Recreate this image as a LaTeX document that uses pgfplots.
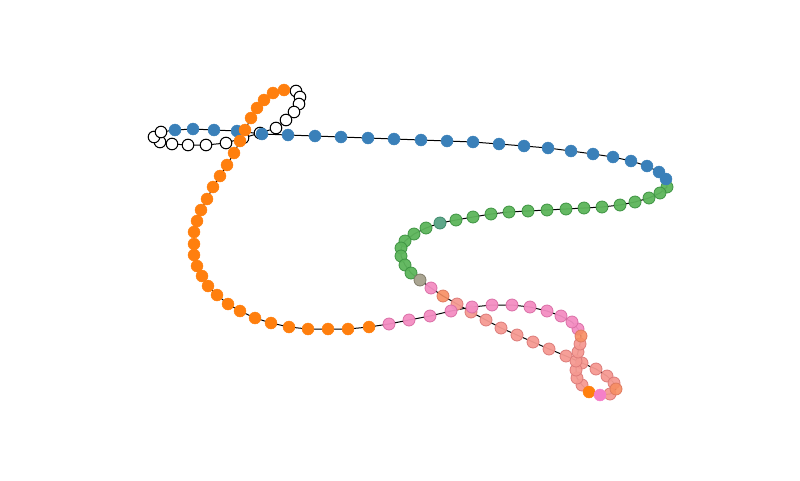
\documentclass[border=0pt]{standalone}
\usepackage{pgfplots}
\pgfplotsset{compat=1.18}

\definecolor{cblue}{HTML}{3A80B9}
\definecolor{corange}{HTML}{FF7F0E}
\definecolor{cgreen}{HTML}{5DB55B}
\definecolor{cgreenE}{HTML}{3E9442}
\definecolor{cteal}{HTML}{5FA78A}
\definecolor{ctealE}{HTML}{3F8A6C}
\definecolor{cgrey}{HTML}{AAA592}
\definecolor{cgreyE}{HTML}{7F7A68}
\definecolor{cpink}{HTML}{F38DC2}
\definecolor{cpinkE}{HTML}{DA6FA6}
\definecolor{csalmon}{HTML}{F59A92}
\definecolor{csalmonE}{HTML}{DC7B79}
\definecolor{corsal}{HTML}{F78E62}
\definecolor{corsalE}{HTML}{DF7A5F}
\definecolor{cpink2}{HTML}{F57FC9}

\begin{document}
\begin{tikzpicture}
\begin{axis}[
    width=800pt, height=480pt,
    scale only axis,
    hide axis,
    xmin=0, xmax=800,
    ymin=0, ymax=480,
    y dir=reverse,
    clip=false,
]

% keeps the page at the full frame
\addplot[draw=none, forget plot] coordinates {(0,0) (800,480)};

% chain backbone
\addplot[black, line width=1pt, no markers] coordinates {
    (296,91) (300,97) (299,104) (294,112) (286,120) (276,128) (260,133) (243,138)
    (226,143) (206,145) (188,145) (172,144) (160,142) (154,137) (161,132)
    (175,130) (193,129) (214,130) (237,131) (262,134) (288,135) (315,136) (341,137)
    (368,138) (394,139) (421,140) (447,141) (473,142) (499,144) (524,146) (548,148)
    (571,151) (593,154) (613,157) (631,161) (647,166) (659,172) (666,179)
    (667,187) (660,193) (649,198) (635,202) (620,205) (602,207) (584,208) (566,209)
    (547,210) (528,211) (509,212) (491,214) (473,217) (456,220) (440,223) (426,228)
    (414,234) (405,241) (401,248) (401,256) (405,265) (411,273)
    (420,280) (431,288) (443,296)
    (457,304) (471,312) (486,320) (501,328) (517,335) (533,342) (549,349) (566,356)
    (582,363) (596,369) (607,376) (614,383) (616,389) (610,394)
    (600,395) (589,392)
    (582,385) (577,378) (576,370) (576,361) (578,352) (580,344) (581,336)
    (578,329) (572,322) (561,316) (547,311) (530,307) (512,305) (492,305) (472,307)
    (451,311) (430,316) (409,320) (389,324)
    (369,327) (348,329) (328,329) (308,329) (289,327) (271,323) (255,318) (240,311)
    (228,304) (217,295) (208,286) (202,276) (197,266) (194,255) (194,244) (194,232)
    (197,221) (201,210) (207,199) (213,187) (220,176) (227,165) (234,153) (240,141)
    (245,130) (251,118) (257,108) (264,100) (273,93) (284,90) (296,91)
};

% missing beads
\addplot[only marks, mark=*, mark size=5.8pt,
    mark options={fill=white, draw=black, line width=1pt}] coordinates {
    (296,91) (300,97) (299,104) (294,112) (286,120) (276,128) (260,133) (243,138)
    (226,143) (206,145) (188,145) (172,144) (160,142) (154,137) (161,132)
};

% green
\addplot[only marks, mark=*, mark size=6pt,
    mark options={fill=cgreen, draw=cgreenE, line width=0.8pt, fill opacity=0.95}] coordinates {
    (667,187) (660,193) (649,198) (635,202) (620,205) (602,207) (584,208) (566,209)
    (547,210) (528,211) (509,212) (491,214) (473,217) (456,220) (426,228)
    (414,234) (405,241) (401,248) (401,256) (405,265) (411,273)
};
\addplot[only marks, mark=*, mark size=6pt,
    mark options={fill=cteal, draw=ctealE, line width=0.8pt}] coordinates {(440,223)};
\addplot[only marks, mark=*, mark size=6pt,
    mark options={fill=cgrey, draw=cgreyE, line width=0.8pt}] coordinates {(420,280)};

% salmon
\addplot[only marks, mark=*, mark size=6pt,
    mark options={fill=csalmon, draw=csalmonE, line width=0.8pt, fill opacity=0.95}] coordinates {
    (457,304) (471,312) (486,320) (501,328) (517,335) (533,342) (549,349) (566,356)
    (582,363) (596,369) (607,376) (614,383) (610,394)
    (582,385) (577,378) (576,370) (576,361) (578,352) (580,344)
};

% pink
\addplot[only marks, mark=*, mark size=6pt,
    mark options={fill=cpink, draw=cpinkE, line width=0.8pt, fill opacity=0.95}] coordinates {
    (431,288)
    (578,329) (572,322) (561,316) (547,311) (530,307) (512,305) (492,305) (472,307)
    (451,311) (430,316) (409,320) (389,324)
};

% orange-salmon
\addplot[only marks, mark=*, mark size=6pt,
    mark options={fill=corsal, draw=corsalE, line width=0.8pt, fill opacity=0.9}] coordinates {
    (443,296) (616,389) (581,336)
};

% blue
\addplot[only marks, mark=*, mark size=6pt,
    mark options={fill=cblue, draw=cblue}] coordinates {
    (175,130) (193,129) (214,130) (237,131) (262,134) (288,135) (315,136) (341,137)
    (368,138) (394,139) (421,140) (447,141) (473,142) (499,144) (524,146) (548,148)
    (571,151) (593,154) (613,157) (631,161) (647,166) (659,172) (666,179)
};

% orange
\addplot[only marks, mark=*, mark size=6pt,
    mark options={fill=corange, draw=corange}] coordinates {
    (589,392)
    (369,327) (348,329) (328,329) (308,329) (289,327) (271,323) (255,318) (240,311)
    (228,304) (217,295) (208,286) (202,276) (197,266) (194,255) (194,244) (194,232)
    (197,221) (201,210) (207,199) (213,187) (220,176) (227,165) (234,153) (240,141)
    (245,130) (251,118) (257,108) (264,100) (273,93) (284,90)
};
\addplot[only marks, mark=*, mark size=6pt,
    mark options={fill=cpink2, draw=cpink2}] coordinates {(600,395)};

\end{axis}
\end{tikzpicture}
\end{document}
